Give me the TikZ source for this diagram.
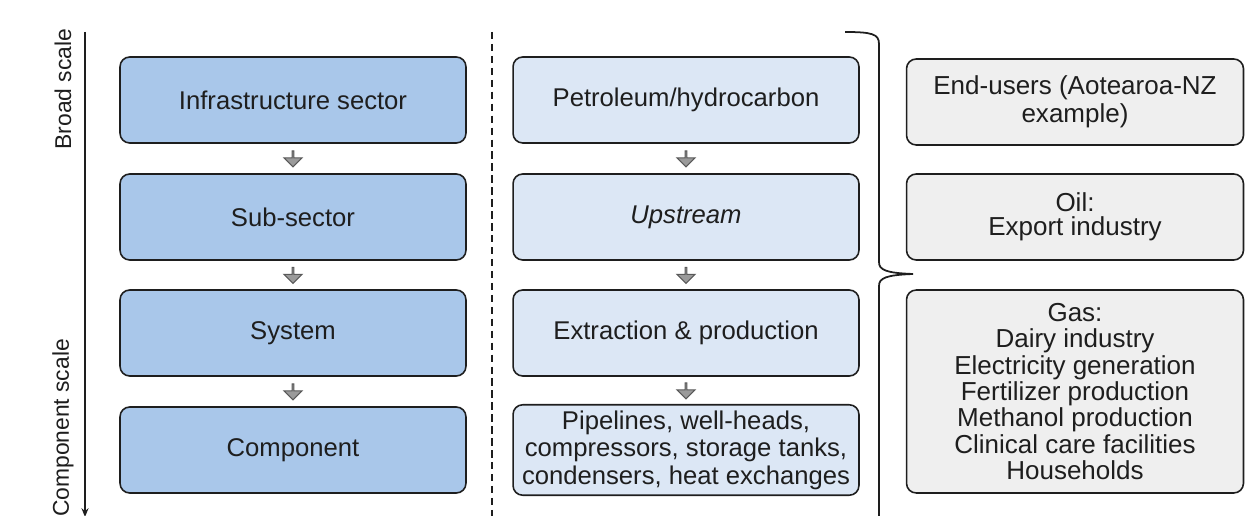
\documentclass[tikz,border=0pt]{standalone}
\usepackage{fontspec}
\setmainfont{Liberation Sans}
\usetikzlibrary{calc,arrows.meta,shapes.arrows}

\definecolor{sectorblue}{HTML}{A9C7EA}
\definecolor{paleblue}{HTML}{DCE7F5}
\definecolor{usergrey}{HTML}{EFEFEF}
\definecolor{arrowgrey}{HTML}{9A9A9A}
\definecolor{inkgrey}{HTML}{1E1E1E}

\tikzset{
  levelbox/.style={draw=inkgrey,line width=0.9pt,rounded corners=5.5pt,
    minimum width=6.92cm,minimum height=1.72cm,align=center,text=inkgrey,
    font=\fontsize{14.6}{17}\selectfont},
  sectorbox/.style={levelbox,fill=sectorblue},
  petrobox/.style={levelbox,fill=paleblue},
  userbox/.style={levelbox,fill=usergrey,minimum width=6.74cm},
  downarrow/.style={single arrow,draw=black!65,fill=arrowgrey,rotate=-90,
    minimum height=0.32cm,minimum width=0.36cm,single arrow head extend=0.09cm,
    inner sep=0pt,line width=0.6pt},
  scalelabel/.style={rotate=90,text=inkgrey,font=\fontsize{13}{15}\selectfont}
}

\begin{document}
\begin{tikzpicture}[x=0.02cm,y=-0.02cm,line width=0.9pt]
  \useasboundingbox (0,0) rectangle (1247,516);
  % scale axis on the left
  \draw[inkgrey,line width=1pt,-{Stealth[length=5pt,width=4pt]}] (85,32) -- (85,517);
  \node[scalelabel] (broad) at (63,89) {Broad scale};
  \node[scalelabel] (compscale) at (63,428) {Component scale};
  \draw[inkgrey,dash pattern=on 4.2pt off 2.6pt] (492,32) -- (492,520);

  % generic levels
  \foreach \name/\y/\txt in {sector/100/Infrastructure sector,subsector/217/Sub-sector,
      system/333/System,component/450/Component}
    \node[sectorbox] (\name) at (293,\y) {\txt};

  % petroleum example
  \node[petrobox] (petro) at (686,100) {Petroleum/hydrocarbon};
  \node[petrobox] (upstream) at (686,217) {\itshape Upstream};
  \node[petrobox] (extract) at (686,333) {Extraction \& production};
  \node[petrobox,font=\fontsize{14.6}{15.6}\selectfont] (parts) at (686,450)
    {Pipelines, well-heads,\\ compressors, storage tanks,\\ condensers, heat exchanges};

  \foreach \a/\b in {sector/subsector,subsector/system,system/component,
      petro/upstream,upstream/extract,extract/parts}
    \node[downarrow] (\a-\b) at ($(\a.south)!0.5!(\b.north)$) {};

  % brace
  \draw[inkgrey,line width=1pt] (845,32) .. controls (872,32) and (879,34) .. (879,44)
    -- (879,262) .. controls (879,270) and (886,273) .. (913,274)
    .. controls (886,275) and (879,278) .. (879,286) -- (879,520);

  % end-users
  \node[userbox,font=\fontsize{14.8}{16}\selectfont] (endusers) at (1075,102)
    {End-users (Aotearoa-NZ\\ example)};
  \node[userbox,font=\fontsize{14.8}{13.6}\selectfont] (oil) at (1075,217)
    {Oil:\\ Export industry};
  \node[userbox,minimum height=4.06cm,font=\fontsize{14.8}{15}\selectfont] (gas) at (1075,391.5)
    {Gas:\\ Dairy industry\\ Electricity generation\\ Fertilizer production\\
     Methanol production\\ Clinical care facilities\\ Households};
\end{tikzpicture}
\end{document}
